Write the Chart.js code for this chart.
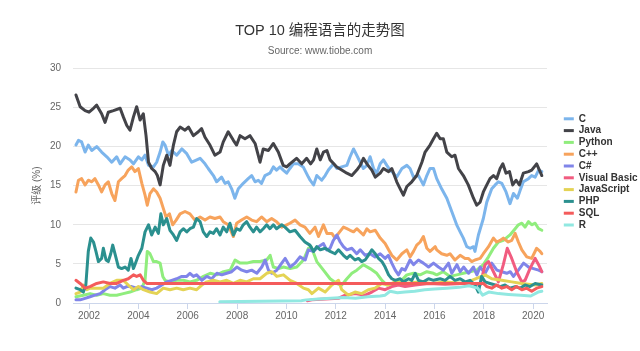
<!DOCTYPE html>
<html><head><meta charset="utf-8">
<script src="https://cdn.jsdelivr.net/npm/chart.js@4/dist/chart.umd.min.js"></script>
<style>html,body{margin:0;padding:0;background:#fff}#wrap{width:640px;height:351px;position:relative}</style>
</head><body><div id="wrap"><canvas id="c" width="640" height="351"></canvas></div>
<script>
const seriesNames = ['C','Java','Python','C++','C#','Visual Basic','JavaScript','PHP','SQL','R'];
const seriesColors = ['#7cb5ec','#434348','#90ed7d','#f7a35c','#8085e9','#f15c80','#e4d354','#2b908f','#f45b5b','#91e8e1'];
const tickYears = [2002,2004,2006,2008,2010,2012,2014,2016,2018,2020];
const yTicks = [0,5,10,15,20,25,30];

const cData = [[2001.47,20.2],[2001.57,20.8],[2001.70,20.6],[2001.84,19.3],[2001.97,20.2],[2002.11,19.5],[2002.31,20.0],[2002.51,19.3],[2002.72,18.7],[2002.92,18.0],[2003.12,18.7],[2003.26,17.8],[2003.46,18.7],[2003.66,18.3],[2003.80,17.8],[2004.00,18.7],[2004.14,18.3],[2004.27,18.9],[2004.41,17.6],[2004.61,17.4],[2004.74,18.0],[2004.88,19.3],[2004.99,20.6],[2005.08,20.2],[2005.22,18.9],[2005.35,19.5],[2005.55,18.9],[2005.76,19.7],[2005.96,19.1],[2006.16,18.0],[2006.30,18.2],[2006.50,18.5],[2006.70,17.8],[2006.83,17.2],[2007.04,16.3],[2007.17,15.5],[2007.37,16.1],[2007.51,15.3],[2007.64,15.5],[2007.78,14.6],[2007.91,13.4],[2008.05,14.6],[2008.25,15.3],[2008.45,15.9],[2008.59,16.3],[2008.73,15.5],[2008.86,15.7],[2008.99,15.3],[2009.13,16.3],[2009.33,16.6],[2009.47,17.4],[2009.60,17.0],[2009.74,17.4],[2009.87,17.0],[2010.01,16.6],[2010.14,17.2],[2010.28,17.8],[2010.48,17.8],[2010.68,17.4],[2010.89,16.1],[2010.96,15.7],[2011.10,15.1],[2011.23,16.3],[2011.43,15.7],[2011.57,16.3],[2011.70,17.0],[2011.91,17.8],[2012.04,17.2],[2012.24,17.4],[2012.45,17.6],[2012.58,18.7],[2012.72,19.7],[2012.85,18.9],[2012.99,18.0],[2013.12,17.2],[2013.26,17.6],[2013.39,18.7],[2013.53,17.2],[2013.66,16.6],[2013.80,17.8],[2013.93,18.3],[2014.07,17.6],[2014.20,17.0],[2014.34,16.6],[2014.47,16.1],[2014.68,17.2],[2014.88,17.6],[2015.01,17.2],[2015.15,16.1],[2015.35,16.3],[2015.55,15.1],[2015.69,16.3],[2015.82,17.2],[2015.96,17.2],[2016.09,15.9],[2016.29,14.6],[2016.50,13.4],[2016.70,11.7],[2016.90,10.0],[2017.04,9.1],[2017.17,8.3],[2017.31,7.2],[2017.44,7.0],[2017.58,7.2],[2017.64,6.6],[2017.78,8.7],[2017.98,10.8],[2018.12,12.9],[2018.32,14.6],[2018.46,15.1],[2018.59,15.5],[2018.73,15.3],[2018.90,14.2],[2019.06,12.7],[2019.20,14.0],[2019.36,13.4],[2019.47,14.4],[2019.60,15.5],[2019.81,15.9],[2019.94,16.3],[2020.08,16.1],[2020.22,17.0],[2020.35,16.8]];

const javaData = [[2001.47,26.6],[2001.64,25.1],[2001.84,24.6],[2002.00,24.4],[2002.18,24.9],[2002.31,25.3],[2002.51,24.2],[2002.65,23.1],[2002.78,24.4],[2002.99,24.6],[2003.26,24.9],[2003.39,23.8],[2003.53,22.7],[2003.66,22.1],[2003.80,23.8],[2003.93,25.1],[2004.07,23.4],[2004.20,24.2],[2004.31,21.4],[2004.41,18.0],[2004.54,17.2],[2004.68,16.8],[2004.77,16.3],[2004.88,15.1],[2005.01,17.6],[2005.15,18.9],[2005.28,17.6],[2005.42,20.2],[2005.55,21.9],[2005.69,22.5],[2005.89,22.1],[2006.03,22.5],[2006.23,21.4],[2006.43,21.9],[2006.56,22.3],[2006.70,21.2],[2006.90,20.2],[2007.10,18.9],[2007.31,19.3],[2007.44,20.6],[2007.64,21.9],[2007.85,20.8],[2007.98,20.2],[2008.12,21.4],[2008.32,21.0],[2008.52,21.4],[2008.73,20.4],[2008.93,18.0],[2009.06,19.7],[2009.27,19.5],[2009.47,20.4],[2009.67,19.3],[2009.87,17.6],[2010.01,17.4],[2010.14,17.8],[2010.41,18.5],[2010.62,17.8],[2010.82,18.5],[2010.98,17.8],[2011.10,18.3],[2011.23,19.7],[2011.37,18.3],[2011.50,19.3],[2011.64,19.5],[2011.77,18.3],[2012.04,17.4],[2012.24,17.0],[2012.45,16.6],[2012.65,16.3],[2012.85,17.0],[2012.99,17.6],[2013.12,18.5],[2013.26,17.8],[2013.46,17.0],[2013.60,16.1],[2013.80,16.6],[2013.93,17.2],[2014.14,16.8],[2014.27,17.2],[2014.47,15.5],[2014.61,14.6],[2014.74,13.8],[2014.88,14.9],[2015.08,15.5],[2015.28,16.3],[2015.49,18.0],[2015.62,19.3],[2015.82,20.2],[2015.96,21.0],[2016.09,21.7],[2016.23,21.0],[2016.36,21.0],[2016.50,19.3],[2016.70,18.7],[2016.83,18.9],[2016.97,17.2],[2017.17,16.3],[2017.37,15.1],[2017.58,13.4],[2017.71,12.5],[2017.85,12.9],[2017.98,14.2],[2018.12,15.1],[2018.25,15.9],[2018.39,16.3],[2018.52,15.9],[2018.66,17.2],[2018.77,17.8],[2018.90,16.6],[2019.04,16.8],[2019.17,15.1],[2019.31,15.7],[2019.44,15.1],[2019.60,16.6],[2019.81,16.8],[2019.94,17.0],[2020.14,17.8],[2020.28,16.8],[2020.35,16.3]];

const pythonData = [[2001.47,0.8],[2001.77,1.0],[2002.04,1.2],[2002.31,1.0],[2002.58,1.2],[2002.85,1.0],[2003.12,1.0],[2003.39,1.2],[2003.66,1.4],[2003.93,1.7],[2004.14,1.9],[2004.27,2.9],[2004.36,6.6],[2004.47,6.3],[2004.61,5.3],[2004.74,5.3],[2004.88,5.1],[2004.99,3.4],[2005.08,2.9],[2005.28,2.7],[2005.55,2.9],[2005.82,2.9],[2006.09,2.7],[2006.36,2.9],[2006.64,3.4],[2006.91,3.8],[2007.18,3.6],[2007.45,4.0],[2007.72,4.2],[2007.92,5.5],[2008.12,5.1],[2008.39,5.1],[2008.66,5.3],[2008.93,5.3],[2009.20,5.5],[2009.34,6.1],[2009.47,4.6],[2009.68,4.4],[2009.88,4.6],[2010.15,4.4],[2010.42,4.6],[2010.69,5.5],[2010.89,7.0],[2011.00,7.2],[2011.10,6.4],[2011.23,5.3],[2011.50,4.2],[2011.77,3.1],[2012.04,2.5],[2012.24,2.3],[2012.45,3.1],[2012.65,3.8],[2012.85,4.2],[2013.12,4.9],[2013.39,4.4],[2013.66,3.8],[2013.87,2.9],[2014.07,2.3],[2014.34,2.5],[2014.61,2.7],[2014.88,3.6],[2015.15,3.8],[2015.42,3.6],[2015.69,4.0],[2015.96,3.8],[2016.09,3.6],[2016.36,4.0],[2016.63,3.4],[2016.90,3.6],[2017.17,3.8],[2017.44,4.0],[2017.71,4.2],[2017.98,4.9],[2018.19,5.9],[2018.39,7.0],[2018.59,7.8],[2018.79,8.0],[2019.06,8.7],[2019.27,9.5],[2019.40,10.0],[2019.54,10.2],[2019.67,9.7],[2019.81,10.4],[2019.94,10.0],[2020.08,10.2],[2020.22,9.5],[2020.35,9.3]];

const cppData = [[2001.47,14.2],[2001.57,15.7],[2001.70,15.9],[2001.84,15.1],[2001.97,15.7],[2002.11,15.5],[2002.24,15.9],[2002.38,15.1],[2002.51,14.2],[2002.65,15.1],[2002.78,15.5],[2002.92,14.0],[2003.05,13.1],[2003.19,15.5],[2003.32,15.9],[2003.46,16.3],[2003.59,17.0],[2003.73,17.4],[2003.86,16.8],[2004.00,17.2],[2004.14,15.3],[2004.27,13.8],[2004.36,12.5],[2004.47,14.0],[2004.61,14.6],[2004.74,14.2],[2004.88,13.4],[2005.01,12.1],[2005.12,11.0],[2005.26,11.4],[2005.39,10.0],[2005.53,10.6],[2005.69,11.4],[2005.89,11.7],[2006.09,11.4],[2006.29,10.6],[2006.50,11.0],[2006.70,10.6],[2006.90,11.0],[2007.10,10.8],[2007.31,11.0],[2007.44,10.4],[2007.64,10.0],[2007.85,8.5],[2007.98,10.2],[2008.18,10.6],[2008.39,11.0],[2008.59,10.6],[2008.79,10.4],[2008.99,11.0],[2009.20,10.4],[2009.40,10.8],[2009.60,10.4],[2009.81,9.7],[2010.01,10.0],[2010.14,10.2],[2010.35,10.6],[2010.55,10.0],[2010.75,9.7],[2010.95,8.9],[2011.16,9.7],[2011.30,8.5],[2011.50,10.0],[2011.64,8.9],[2011.84,8.9],[2011.97,8.3],[2012.11,8.9],[2012.31,9.7],[2012.45,9.5],[2012.58,9.3],[2012.72,9.1],[2012.85,9.5],[2012.99,9.1],[2013.12,8.7],[2013.26,9.5],[2013.39,9.1],[2013.60,9.3],[2013.80,8.3],[2014.00,7.6],[2014.14,6.8],[2014.27,6.1],[2014.47,5.5],[2014.68,6.3],[2014.88,6.8],[2015.01,5.9],[2015.15,6.6],[2015.28,7.4],[2015.42,7.8],[2015.55,8.5],[2015.69,7.0],[2015.82,6.6],[2016.03,7.2],[2016.09,6.8],[2016.29,6.3],[2016.50,6.1],[2016.63,6.3],[2016.83,5.5],[2017.04,6.1],[2017.24,5.7],[2017.37,5.7],[2017.51,5.3],[2017.64,5.5],[2017.85,5.7],[2017.98,6.3],[2018.19,7.2],[2018.39,8.3],[2018.52,7.8],[2018.66,8.0],[2018.79,8.3],[2018.99,7.8],[2019.13,8.0],[2019.27,8.9],[2019.40,7.8],[2019.54,6.8],[2019.74,5.9],[2019.94,5.7],[2020.14,7.0],[2020.28,6.6],[2020.35,6.3]];

const csData = [[2001.47,0.4],[2001.64,0.4],[2001.84,0.6],[2002.04,0.8],[2002.24,1.0],[2002.45,1.2],[2002.65,1.7],[2002.85,2.1],[2003.05,1.9],[2003.26,2.3],[2003.39,1.9],[2003.53,2.1],[2003.73,2.1],[2003.93,1.9],[2004.14,2.1],[2004.34,1.9],[2004.54,1.7],[2004.74,1.9],[2004.95,2.3],[2005.15,2.7],[2005.35,2.9],[2005.55,3.1],[2005.76,3.4],[2005.96,3.4],[2006.09,3.8],[2006.23,3.4],[2006.36,3.6],[2006.57,2.9],[2006.77,3.4],[2006.97,3.1],[2007.18,3.8],[2007.38,3.6],[2007.58,3.8],[2007.78,4.0],[2007.99,4.6],[2008.19,4.2],[2008.39,4.0],[2008.59,4.2],[2008.80,3.8],[2009.00,4.6],[2009.14,5.5],[2009.27,4.2],[2009.41,3.8],[2009.61,4.2],[2009.81,5.1],[2009.95,5.7],[2010.15,4.6],[2010.35,5.1],[2010.55,5.9],[2010.76,5.5],[2010.89,6.8],[2011.09,6.6],[2011.30,7.2],[2011.50,7.6],[2011.63,6.8],[2011.77,7.0],[2011.90,8.0],[2012.04,8.7],[2012.18,7.8],[2012.31,7.2],[2012.45,6.8],[2012.65,7.0],[2012.85,6.3],[2012.99,6.8],[2013.19,6.1],[2013.39,6.3],[2013.59,5.9],[2013.80,6.3],[2014.00,5.7],[2014.13,6.1],[2014.27,5.1],[2014.41,4.2],[2014.54,3.6],[2014.68,4.4],[2014.81,4.2],[2015.01,5.5],[2015.15,4.9],[2015.35,5.5],[2015.55,5.1],[2015.76,4.6],[2015.96,5.1],[2016.16,4.6],[2016.36,4.2],[2016.57,5.1],[2016.70,3.8],[2016.91,4.9],[2017.04,4.0],[2017.18,4.6],[2017.38,3.8],[2017.58,4.6],[2017.72,3.6],[2017.85,4.6],[2018.05,3.8],[2018.19,4.6],[2018.32,5.1],[2018.53,4.2],[2018.73,4.0],[2018.93,3.8],[2019.07,4.0],[2019.20,3.4],[2019.40,4.2],[2019.61,5.1],[2019.81,4.6],[2020.01,4.4],[2020.22,4.2],[2020.35,4.0]];

const vbData = [[2010.85,0.3],[2011.03,0.4],[2011.57,0.5],[2012.11,0.6],[2012.38,1.0],[2012.78,1.2],[2013.19,1.0],[2013.46,1.4],[2013.73,1.9],[2014.00,1.7],[2014.27,2.1],[2014.54,2.3],[2014.81,2.1],[2015.22,2.3],[2015.76,2.5],[2016.43,2.4],[2017.11,2.5],[2017.65,2.5],[2017.85,2.3],[2018.05,4.9],[2018.19,5.3],[2018.39,4.0],[2018.59,2.7],[2018.79,4.9],[2018.95,7.0],[2019.13,5.7],[2019.33,4.0],[2019.54,2.7],[2019.67,2.9],[2019.87,4.4],[2020.08,5.7],[2020.22,4.9],[2020.35,4.0]];

const jsData = [[2001.47,1.2],[2001.64,1.4],[2001.77,2.3],[2001.91,1.7],[2002.04,1.9],[2002.31,1.9],[2002.58,1.9],[2002.85,2.5],[2003.12,2.9],[2003.39,2.9],[2003.59,2.3],[2003.80,1.7],[2004.00,2.1],[2004.20,1.7],[2004.47,1.4],[2004.74,1.2],[2005.01,1.9],[2005.28,1.7],[2005.55,1.9],[2005.82,1.7],[2006.09,1.9],[2006.36,1.7],[2006.57,2.3],[2006.77,2.7],[2007.04,2.9],[2007.31,2.7],[2007.58,2.9],[2007.85,2.5],[2008.12,2.9],[2008.39,2.7],[2008.66,3.1],[2008.93,3.1],[2009.20,3.8],[2009.41,4.0],[2009.61,3.4],[2009.88,3.6],[2010.15,2.9],[2010.42,2.5],[2010.69,1.9],[2010.89,1.7],[2011.03,1.2],[2011.30,1.9],[2011.57,1.4],[2011.84,2.3],[2012.11,2.9],[2012.24,1.7],[2012.51,1.0],[2012.78,1.4],[2013.05,1.2],[2013.32,1.7],[2013.59,1.9],[2013.86,2.5],[2014.13,2.3],[2014.40,2.7],[2014.81,2.5],[2015.35,2.7],[2015.89,2.5],[2016.43,2.7],[2017.24,2.5],[2017.51,2.9],[2018.05,3.6],[2018.32,3.1],[2018.73,2.9],[2019.13,2.7],[2019.54,2.5],[2020.08,2.3],[2020.35,2.5]];

const phpData = [[2001.47,1.9],[2001.64,1.7],[2001.77,1.4],[2001.87,2.3],[2001.97,6.6],[2002.07,8.3],[2002.18,7.8],[2002.28,6.6],[2002.38,5.3],[2002.51,5.7],[2002.58,7.0],[2002.69,5.5],[2002.78,5.3],[2002.88,6.3],[2002.96,7.4],[2003.05,6.3],[2003.19,4.6],[2003.32,4.4],[2003.46,4.6],[2003.59,4.2],[2003.70,5.7],[2003.80,4.4],[2003.86,4.9],[2004.00,6.1],[2004.14,7.0],[2004.27,9.1],[2004.41,10.0],[2004.54,8.7],[2004.68,9.7],[2004.81,8.9],[2004.91,11.4],[2005.01,10.0],[2005.15,10.8],[2005.28,9.3],[2005.42,8.7],[2005.55,8.0],[2005.69,9.1],[2005.82,9.5],[2005.96,9.1],[2006.09,9.5],[2006.23,9.7],[2006.36,10.8],[2006.50,10.4],[2006.63,9.1],[2006.77,8.5],[2006.90,9.1],[2007.04,8.9],[2007.17,9.5],[2007.31,8.7],[2007.44,9.7],[2007.58,9.1],[2007.71,10.2],[2007.85,8.7],[2007.98,9.5],[2008.12,9.3],[2008.25,10.0],[2008.39,10.4],[2008.52,9.7],[2008.66,9.1],[2008.79,9.7],[2008.93,9.1],[2009.06,9.5],[2009.20,10.0],[2009.33,9.5],[2009.47,10.0],[2009.60,9.5],[2009.81,10.0],[2009.94,9.7],[2010.14,9.1],[2010.35,9.3],[2010.55,8.5],[2010.75,7.8],[2010.95,7.4],[2011.10,6.6],[2011.23,7.2],[2011.37,6.8],[2011.57,7.0],[2011.77,6.6],[2011.97,6.3],[2012.11,6.8],[2012.31,6.1],[2012.45,5.7],[2012.58,6.1],[2012.78,5.5],[2012.92,5.7],[2013.05,5.3],[2013.19,5.5],[2013.32,6.1],[2013.46,6.8],[2013.60,6.3],[2013.73,5.7],[2013.87,5.3],[2014.00,4.6],[2014.14,3.6],[2014.27,3.1],[2014.41,2.9],[2014.61,3.1],[2014.74,2.7],[2014.95,3.1],[2015.08,2.9],[2015.22,3.8],[2015.35,2.9],[2015.55,2.7],[2015.76,3.1],[2015.96,2.9],[2016.23,3.1],[2016.43,2.9],[2016.63,3.4],[2016.83,2.9],[2017.04,3.1],[2017.24,2.7],[2017.44,2.9],[2017.64,2.3],[2017.78,1.4],[2017.91,3.4],[2018.05,2.7],[2018.25,2.5],[2018.46,2.3],[2018.66,2.1],[2018.86,2.3],[2019.06,1.9],[2019.27,2.1],[2019.47,1.9],[2019.67,2.3],[2019.87,2.1],[2020.08,2.5],[2020.35,2.3]];

const sqlData = [[2001.47,2.9],[2001.64,2.5],[2001.84,1.9],[2002.04,2.1],[2002.31,2.5],[2002.58,2.7],[2002.85,2.5],[2003.12,2.5],[2003.39,2.9],[2003.59,3.1],[2003.80,3.6],[2003.93,3.4],[2004.07,3.6],[2004.20,2.9],[2004.34,2.5],[2017.98,2.5],[2018.12,2.1],[2018.32,1.9],[2018.52,2.3],[2018.73,1.9],[2018.93,2.1],[2019.13,1.7],[2019.33,2.1],[2019.54,1.7],[2019.74,1.9],[2019.94,1.5],[2020.14,1.9],[2020.35,2.1]];

const rData = [[2007.30,0.15],[2010.60,0.3],[2010.80,0.4],[2011.30,0.5],[2011.80,0.6],[2012.30,0.7],[2012.80,0.6],[2013.30,0.8],[2013.80,0.9],[2014.00,1.0],[2014.20,1.5],[2014.50,1.3],[2014.80,1.4],[2015.20,1.5],[2015.60,1.7],[2016.00,1.8],[2016.50,1.9],[2017.00,2.0],[2017.40,2.2],[2017.75,1.9],[2017.95,1.0],[2018.20,1.4],[2018.60,1.2],[2019.00,1.1],[2019.50,1.0],[2019.90,0.9],[2020.20,1.4],[2020.35,1.5]];

const seriesData = [cData, javaData, pythonData, cppData, csData, vbData, jsData, phpData, sqlData, rData];

const FONT = "'Liberation Sans', 'Noto Sans CJK SC', sans-serif";
Chart.defaults.font.family = FONT;

new Chart(document.getElementById('c').getContext('2d'), {
  type: 'line',
  data: {
    datasets: seriesNames.map((name, i) => ({
      label: name,
      data: seriesData[i].map(p => ({x: p[0], y: p[1]})),
      borderColor: seriesColors[i],
      backgroundColor: seriesColors[i],
      borderWidth: 3,
      pointRadius: 0,
      tension: 0,
      fill: false,
      borderJoinStyle: 'round',
      borderCapStyle: 'round',
      spanGaps: true,
      order: seriesNames.length - i
    }))
  },
  options: {
    responsive: false,
    animation: false,
    devicePixelRatio: 1,
    layout: {padding: {left: 0, right: 0, top: 0, bottom: 0}},
    plugins: {
      title: {display: true, text: 'TOP 10 编程语言的走势图', color: '#333333',
        font: {family: FONT, size: 14.5, weight: 'normal'}, padding: {top: 22, bottom: 3}},
      subtitle: {display: true, text: 'Source: www.tiobe.com', color: '#666666',
        font: {family: FONT, size: 10}, padding: {top: 3, bottom: 11}},
      legend: {
        position: 'right', align: 'start', maxWidth: 78,
        title: {display: true, text: '', font: {size: 10}, padding: {top: 100, bottom: 0}},
        labels: {usePointStyle: true, pointStyle: 'line', pointStyleWidth: 10, boxHeight: 10,
          padding: 1.8, color: '#333333', font: {family: FONT, size: 10, weight: 'bold'},
          sort: (a, b) => a.datasetIndex - b.datasetIndex}
      },
      tooltip: {enabled: false}
    },
    scales: {
      x: {
        type: 'linear', min: 2001.35, max: 2020.56,
        afterBuildTicks: s => { s.ticks = tickYears.map(v => ({value: v})); },
        ticks: {callback: v => String(v), color: '#666666', font: {size: 10}, padding: 1, maxRotation: 0, autoSkip: false},
        grid: {drawOnChartArea: false, drawTicks: true, tickLength: 6, color: '#ccd6eb'},
        border: {color: '#ccd6eb'},
        afterFit: s => { s.height = 48; }
      },
      y: {
        min: 0, max: 30,
        afterBuildTicks: s => { s.ticks = yTicks.map(v => ({value: v})); },
        ticks: {color: '#666666', font: {size: 10}, padding: 12},
        grid: {color: '#e6e6e6', drawTicks: false},
        border: {display: false},
        title: {display: true, text: '评级 (%)', color: '#666666', font: {size: 10}, padding: {top: 31, bottom: 4}},
        afterFit: s => { s.width = 73; }
      },
      yR: {
        type: 'linear', position: 'right', display: true,
        grid: {display: false}, border: {display: false}, ticks: {display: false},
        afterFit: s => { s.width = 15; }
      }
    }
  }
});
</script></body></html>
